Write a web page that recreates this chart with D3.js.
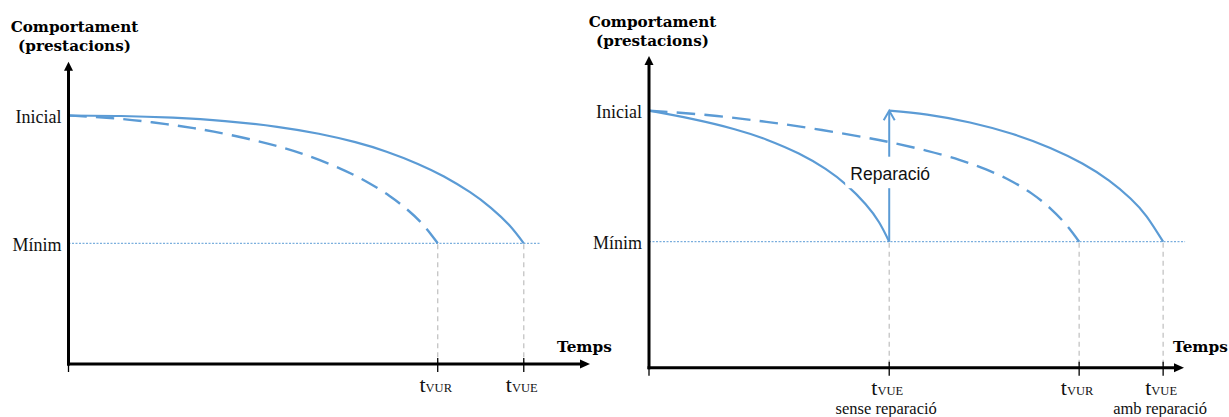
<!DOCTYPE html>
<html>
<head>
<meta charset="utf-8">
<script src="https://cdn.jsdelivr.net/npm/d3@7"></script>
<style>
  html, body { margin: 0; padding: 0; background: #ffffff; }
  svg { display: block; }
</style>
</head>
<body>
<svg id="chart" width="1229" height="417"></svg>
<script>
// ---------- data ----------
const levelNames = ["Inicial", "Mínim"];
const levelValues = [100, 49];
const yTitle = ["Comportament", "(prestacions)"];
const xTitle = "Temps";

// left panel: time (0..100 along the axis), performance
const leftSolidT = [0, 10, 20, 30, 40, 48, 55, 61, 67, 72, 77, 81, 84.5, 87.3];
const leftSolidP = [100, 99.81, 99.13, 97.79, 95.48, 92.71, 89.35, 85.54, 80.69, 75.65, 69.40, 63.17, 56.27, 49];
const leftDashT = [0, 8, 16, 24, 32, 40, 46, 52, 57, 61.5, 65, 68, 70.8];
const leftDashP = [100, 98.99, 97.30, 94.94, 91.82, 87.78, 83.86, 78.93, 73.77, 67.98, 62.38, 56.37, 49];
const leftTickT = [70.8, 87.3];
const leftTickSub = ["VUR", "VUE"];
const leftTickNote = ["", ""];
const leftMinEnd = 90.4;

// right panel
const rightSolid1T = [0, 8, 16, 22, 28, 33, 37, 40.5, 43, 44.9];
const rightSolid1P = [100, 96.8, 92.8, 88.72, 83.32, 77.32, 70.92, 63.57, 56.57, 49];
const rightSolid2T = [44.9, 52, 60, 68, 75, 81, 86, 90, 93, 96.1];
const rightSolid2P = [100, 98.49, 95.4, 90.92, 85.52, 79.44, 72.78, 65.83, 58.88, 49];
const rightDashT = [0, 10, 20, 30, 40, 46, 52, 58, 63, 67.5, 71.5, 75, 78, 80.4];
const rightDashP = [100, 98.49, 96.18, 93.26, 89.74, 87.27, 84.37, 80.87, 77.14, 72.84, 67.81, 62.0, 55.52, 49];
const rightTickT = [44.9, 80.4, 96.1];
const rightTickSub = ["VUE", "VUR", "VUE"];
const rightTickNote = ["sense reparació", "", "amb reparació"];
const rightMinEnd = 100.2;
const repairT = 44.9;
const repairLabel = "Reparació";

// ---------- styles / layout ----------
const BLUE = "#5b9bd5";
const SERIF = "'Liberation Serif', 'Times New Roman', serif";
const SERIF_B = "'DejaVu Serif', serif";
const SANS = "'Liberation Sans', Arial, sans-serif";

const svg = d3.select("#chart");

const panels = [
  { x0: 68.5, xTip: 590, axisY: 364, yTip: 61.7, yInit: 115.5, yMin: 243.3,
    titleX: 74.5, titleY: 31.7, tempsX: 557, tempsY: 351.7,
    solids: [[leftSolidT, leftSolidP]], dashes: [[leftDashT, leftDashP]],
    ticks: leftTickT, subs: leftTickSub, notes: leftTickNote, minEnd: leftMinEnd,
    tickLabelDy: 27.7, repair: null },
  { x0: 649, xTip: 1184, axisY: 367.7, yTip: 56, yInit: 110.7, yMin: 241.7,
    titleX: 652.5, titleY: 26.7, tempsX: 1173, tempsY: 351.7,
    solids: [[rightSolid1T, rightSolid1P], [rightSolid2T, rightSolid2P]],
    dashes: [[rightDashT, rightDashP]],
    ticks: rightTickT, subs: rightTickSub, notes: rightTickNote, minEnd: rightMinEnd,
    tickLabelDy: 27.3, repair: repairT }
];

panels.forEach(p => {
  const g = svg.append("g");
  const x = d3.scaleLinear().domain([0, 100]).range([p.x0, p.xTip]);
  const y = d3.scaleLinear().domain([levelValues[1], levelValues[0]]).range([p.yMin, p.yInit]);

  // Mínim dotted reference line
  g.append("line")
    .attr("x1", x(0)).attr("x2", x(p.minEnd))
    .attr("y1", y(levelValues[1])).attr("y2", y(levelValues[1]))
    .attr("stroke", BLUE).attr("stroke-width", 1).attr("stroke-dasharray", "2,1.5");

  // gray dashed drop lines
  g.selectAll(".drop").data(p.ticks).enter().append("line")
    .attr("x1", d => x(d)).attr("x2", d => x(d))
    .attr("y1", y(levelValues[1]) + 1).attr("y2", p.axisY)
    .attr("stroke", "#c4c4c4").attr("stroke-width", 1.3).attr("stroke-dasharray", "5,4");

  const line = d3.line().x(d => x(d[0])).y(d => y(d[1])).curve(d3.curveNatural);

  p.dashes.forEach(([T, P]) => {
    const path = g.append("path").attr("d", line(T.map((t, i) => [t, P[i]])))
      .attr("fill", "none").attr("stroke", BLUE).attr("stroke-width", 2.4);
    // fit dash pattern so the curve starts and ends on a dash
    const L = path.node().getTotalLength();
    const n = Math.max(1, Math.round((L - 18) / 27));
    const k = L / (n * 27 + 18);
    path.attr("stroke-dasharray", `${18 * k},${9 * k}`);
  });
  p.solids.forEach(([T, P]) => {
    g.append("path").attr("d", line(T.map((t, i) => [t, P[i]])))
      .attr("fill", "none").attr("stroke", BLUE).attr("stroke-width", 2.2);
  });

  // repair arrow
  if (p.repair !== null) {
    const rx = x(p.repair);
    const yb = y(levelValues[1]), yt = y(levelValues[0]);
    g.append("line").attr("x1", rx).attr("x2", rx).attr("y1", yb).attr("y2", yt + 1)
      .attr("stroke", BLUE).attr("stroke-width", 2);
    g.append("path")
      .attr("d", `M${rx - 5.5},${yt + 9.5} L${rx},${yt} L${rx + 5.5},${yt + 9.5}`)
      .attr("fill", "none").attr("stroke", BLUE).attr("stroke-width", 2);
    const mid = (yb + yt) / 2;
    g.append("rect").attr("x", rx - 44).attr("y", mid - 19.5).attr("width", 88).attr("height", 31.5)
      .attr("fill", "#ffffff");
    g.append("text").attr("x", rx + 1).attr("y", mid + 3.8).attr("text-anchor", "middle")
      .attr("font-family", SANS).attr("font-size", 17.5).attr("fill", "#111")
      .text(repairLabel);
  }

  // axes
  g.append("line").attr("x1", p.x0).attr("x2", p.x0)
    .attr("y1", p.axisY + 1.5).attr("y2", p.yTip + 6)
    .attr("stroke", "#000").attr("stroke-width", 3);
  g.append("path")
    .attr("d", `M${p.x0},${p.yTip} L${p.x0 - 4.5},${p.yTip + 9} L${p.x0 + 4.5},${p.yTip + 9} Z`)
    .attr("fill", "#000");
  g.append("line").attr("x1", p.x0 - 1.5).attr("x2", p.xTip - 6)
    .attr("y1", p.axisY).attr("y2", p.axisY)
    .attr("stroke", "#000").attr("stroke-width", 3);
  g.append("path")
    .attr("d", `M${p.xTip},${p.axisY} L${p.xTip - 10},${p.axisY - 4.5} L${p.xTip - 10},${p.axisY + 4.5} Z`)
    .attr("fill", "#000");

  // ticks (including origin)
  g.selectAll(".tick").data([0].concat(p.ticks)).enter().append("line")
    .attr("x1", d => x(d)).attr("x2", d => x(d))
    .attr("y1", (d, i) => i === 0 ? p.axisY : p.axisY - 6).attr("y2", p.axisY + 8)
    .attr("stroke", "#000").attr("stroke-width", 1.3);

  // tick labels t_sub
  const tl = g.selectAll(".tl").data(p.ticks).enter().append("text")
    .attr("x", d => x(d) - 2).attr("y", p.axisY + p.tickLabelDy)
    .attr("text-anchor", "middle").attr("font-family", SERIF).attr("fill", "#111");
  tl.append("tspan").attr("font-size", 22).text("t");
  tl.append("tspan").attr("font-size", 12.5).text((d, i) => p.subs[i]);

  g.selectAll(".tn").data(p.ticks).enter().append("text")
    .attr("x", d => x(d) - 3).attr("y", p.axisY + 46.5)
    .attr("text-anchor", "middle").attr("font-family", SERIF).attr("font-size", 16.5)
    .attr("fill", "#111").text((d, i) => p.notes[i]);

  // level labels
  g.selectAll(".lvl").data(levelValues).enter().append("text")
    .attr("x", p.x0 - 7).attr("y", d => y(d) + 7.5)
    .attr("text-anchor", "end").attr("font-family", SERIF).attr("font-size", 18)
    .attr("fill", "#111").text((d, i) => levelNames[i]);

  // y title
  g.selectAll(".yt").data(yTitle).enter().append("text")
    .attr("x", p.titleX).attr("y", (d, i) => p.titleY + i * 19.5)
    .attr("text-anchor", "middle").attr("font-family", SERIF_B).attr("font-weight", "bold")
    .attr("font-size", 15.2).attr("fill", "#000").text(d => d);

  // x title
  g.append("text").attr("x", p.tempsX).attr("y", p.tempsY)
    .attr("font-family", SERIF_B).attr("font-weight", "bold").attr("font-size", 15.3)
    .attr("fill", "#000").text(xTitle);
});
</script>
</body>
</html>
